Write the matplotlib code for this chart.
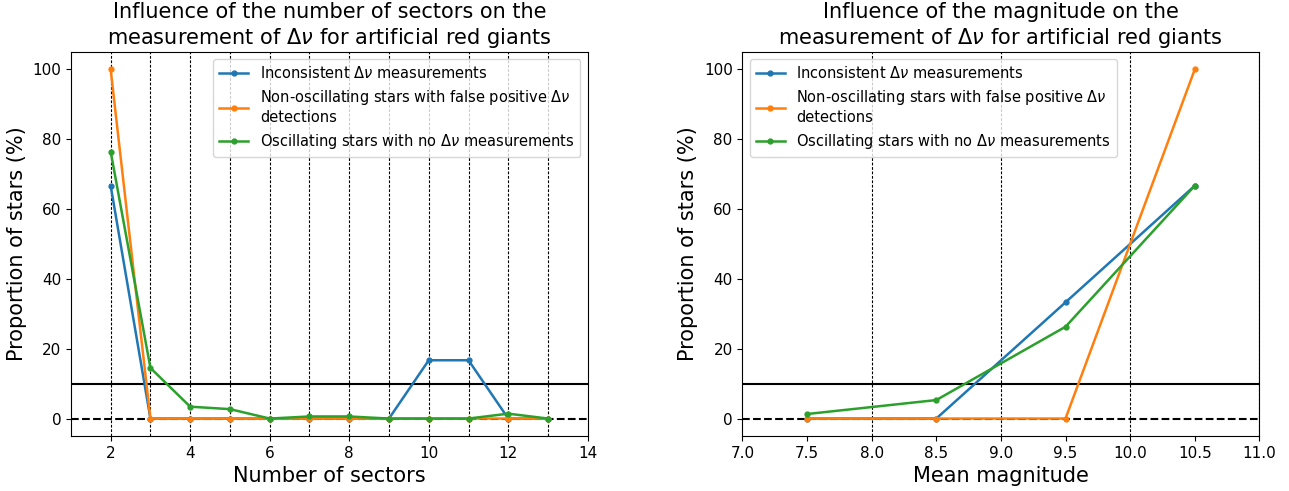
import matplotlib.pyplot as plt
import numpy as np

# proportions (%) against the number of sectors
sectors = [2, 3, 4, 5, 6, 7, 8, 9, 10, 11, 12, 13]
inconsistent_sec = [66.7, 0, 0, 0, 0, 0, 0, 0, 16.7, 16.7, 0, 0]
false_pos_sec = [100, 0, 0, 0, 0, 0, 0, 0, 0, 0, 0, 0]
no_meas_sec = [76.5, 14.5, 3.4, 2.7, 0, 0.6, 0.6, 0, 0, 0, 1.4, 0]

# proportions (%) against the mean magnitude
mags = [7.5, 8.5, 9.5, 10.5]
inconsistent_mag = [0, 0, 33.3, 66.7]
false_pos_mag = [0, 0, 0, 100]
no_meas_mag = [1.3, 5.3, 26.3, 66.7]

labels = [r"Inconsistent $\Delta\nu$ measurements",
          "Non-oscillating stars with false positive $\\Delta\\nu$\ndetections",
          r"Oscillating stars with no $\Delta\nu$ measurements"]

fig = plt.figure(figsize=(12.89, 4.91), dpi=100)
ax1 = fig.add_axes([0.055, 0.112, 0.401, 0.782])
ax2 = fig.add_axes([0.576, 0.112, 0.401, 0.782])


def draw(ax, x, series, vlines, xlim, xlabel, title):
    for v in vlines:
        ax.axvline(v, color='k', ls=(0, (2.5, 1.5)), lw=0.8)
    ax.axhline(10, color='k', lw=1.5)
    ax.axhline(0, color='k', ls='--', lw=1.5)
    for y, lab in zip(series, labels):
        ax.plot(x, y, '-o', ms=3.5, lw=1.8, label=lab)
    ax.set_xlim(*xlim)
    ax.set_ylim(-5, 105)
    ax.set_xlabel(xlabel, fontsize=15)
    ax.set_ylabel("Proportion of stars (%)", fontsize=15)
    ax.set_title(title, fontsize=15)
    ax.tick_params(labelsize=11)
    ax.legend(fontsize=10.5, loc='upper right')


draw(ax1, sectors, [inconsistent_sec, false_pos_sec, no_meas_sec],
     range(2, 14), (1, 14), "Number of sectors",
     "Influence of the number of sectors on the\nmeasurement of $\\Delta\\nu$ for artificial red giants")
ax1.set_xticks(np.arange(2, 15, 2))

draw(ax2, mags, [inconsistent_mag, false_pos_mag, no_meas_mag],
     [8, 9, 10, 11], (7, 11), "Mean magnitude",
     "Influence of the magnitude on the\nmeasurement of $\\Delta\\nu$ for artificial red giants")
ax2.set_xticks(np.arange(7, 11.01, 0.5))
ax2.legend(fontsize=10.5, loc='upper left')

fig.savefig("out.png")
